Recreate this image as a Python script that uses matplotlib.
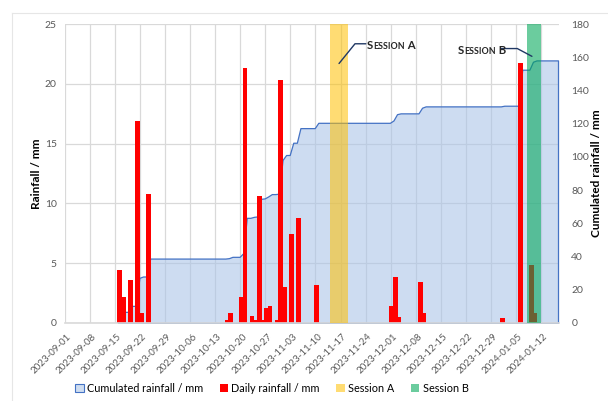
import matplotlib.pyplot as plt
import matplotlib.dates as mdates
from matplotlib.patches import Patch
from matplotlib.lines import Line2D
from matplotlib.colors import to_rgba
from matplotlib.transforms import ScaledTranslation
import pandas as pd

plt.rcParams['font.family'] = ['Lato', 'DejaVu Sans']

# daily rainfall (mm)
rain_dates = ['2023-09-16', '2023-09-17', '2023-09-19', '2023-09-21', '2023-09-22', '2023-09-24',
              '2023-10-16', '2023-10-17', '2023-10-20', '2023-10-21', '2023-10-23', '2023-10-24',
              '2023-10-25', '2023-10-26', '2023-10-27', '2023-10-28', '2023-10-30', '2023-10-31',
              '2023-11-01', '2023-11-03', '2023-11-05', '2023-11-10',
              '2023-12-01', '2023-12-02', '2023-12-03', '2023-12-09', '2023-12-10',
              '2024-01-01', '2024-01-06', '2024-01-09', '2024-01-10']
rain_mm = [4.4, 2.2, 3.6, 16.9, 0.8, 10.8,
           0.25, 0.8, 2.2, 21.3, 0.6, 0.25,
           10.6, 0.25, 1.2, 1.4, 0.25, 20.3,
           3.0, 7.4, 8.8, 3.2,
           1.4, 3.8, 0.5, 3.4, 0.8,
           0.4, 21.7, 4.8, 0.8]

session_a = ('2023-11-14', '2023-11-19')
session_b = ('2024-01-08', '2024-01-12')
cum_start, cum_end = '2023-09-15', '2024-01-16'
tick_start, tick_end = '2023-09-01', '2024-01-12'
rain_ticks = [0, 5, 10, 15, 20, 25]
cum_ticks = list(range(0, 181, 20))

daily = pd.Series(rain_mm, index=pd.to_datetime(rain_dates))
days = pd.date_range(cum_start, cum_end, freq='D')
cumulated = daily.reindex(days, fill_value=0).cumsum()

RED = '#FF0000'
LINE = '#4472C4'
AREA = to_rgba('#A9C4E8', 0.58)
BAND_A = to_rgba('#FFC000', 0.55)
BAND_B = to_rgba('#00A859', 0.58)
GRID = '#D9D9D9'
TXT = '#595959'
BAR_SHIFT = pd.Timedelta(hours=7)
LINE_SHIFT = pd.Timedelta(hours=19)

fig = plt.figure(figsize=(6.08, 4.01), dpi=100)
ax = fig.add_axes([0.107, 0.195, 0.812, 0.745])
ax2 = ax.twinx()
ax.set_zorder(ax2.get_zorder() + 1)
ax.patch.set_visible(False)

ticks = pd.date_range(tick_start, tick_end, freq='7D')

# grid sits under the area, on the lower axes
for t in ticks:
    ax2.axvline(t, color=GRID, lw=0.9, zorder=0)
for v in rain_ticks:
    ax2.plot([0, 1], [v, v], transform=ax.get_yaxis_transform(), color=GRID, lw=0.9, zorder=0)

ax2.fill_between(days + LINE_SHIFT, cumulated.values, facecolor=AREA, edgecolor=LINE,
                 lw=0.9, zorder=1)

ax.bar(daily.index + BAR_SHIFT, daily.values, width=1.3, color=RED, lw=0, zorder=2)
ax.axvspan(pd.Timestamp(session_a[0]), pd.Timestamp(session_a[1]), color=BAND_A, lw=0, zorder=3)
ax.axvspan(pd.Timestamp(session_b[0]), pd.Timestamp(session_b[1]), color=BAND_B, lw=0, zorder=3)

ax.set_xlim(pd.Timestamp(tick_start), pd.Timestamp('2024-01-17'))
ax.set_ylim(0, 25)
ax2.set_ylim(0, 180)
ax.set_yticks(rain_ticks)
ax2.set_yticks(cum_ticks)
ax.set_xticks(ticks)
ax.xaxis.set_major_formatter(mdates.DateFormatter('%Y-%m-%d'))

ax.tick_params(axis='x', length=0, pad=9, labelsize=7, labelcolor=TXT)
ax.tick_params(axis='y', length=0, pad=6, labelsize=7.5, labelcolor=TXT)
ax2.tick_params(axis='y', length=0, pad=9, labelsize=7.5, labelcolor=TXT)

nudge = ScaledTranslation(0.05, 0, fig.dpi_scale_trans)
for lab in ax.get_xticklabels():
    lab.set_rotation(45)
    lab.set_ha('right')
    lab.set_va('center')
    lab.set_rotation_mode('anchor')
    lab.set_transform(lab.get_transform() + nudge)

for a in (ax, ax2):
    for s in a.spines.values():
        s.set_visible(False)
ax.spines['bottom'].set_visible(True)
ax.spines['bottom'].set_color(GRID)
ax.spines['bottom'].set_linewidth(1.2)

ax.set_ylabel('Rainfall / mm', fontsize=8.5, fontweight='bold')
ax.yaxis.set_label_coords(-0.047, 0.5)
ax2.set_ylabel('Cumulated rainfall / mm', fontsize=8.5, fontweight='bold')
ax2.yaxis.set_label_coords(1.066, 0.5)


def small_caps(x, y, word, tail):
    t = ax.text(x, y, word[0], fontsize=8.2, fontweight='bold', color='#262626',
                va='baseline', zorder=5)
    t = ax.annotate(word[1:].upper(), xy=(1, 0), xycoords=t, fontsize=6.4, fontweight='bold',
                    color='#262626', va='bottom', zorder=5)
    ax.annotate(tail, xy=(1, 0), xycoords=t, fontsize=8.2, fontweight='bold',
                color='#262626', va='bottom', zorder=5)


lead = dict(arrowstyle='-', color='#203864', lw=1.0, shrinkA=0, shrinkB=0)
small_caps(pd.Timestamp('2023-11-24 10:00'), 22.95, 'Session', ' A')
ax.annotate('', xy=(pd.Timestamp('2023-11-16 14:00'), 21.7),
            xytext=(pd.Timestamp('2023-11-24 02:00'), 23.35),
            arrowprops=dict(lead, connectionstyle='angle,angleA=0,angleB=51'))

small_caps(pd.Timestamp('2023-12-19 18:00'), 22.5, 'Session', ' B')
ax.annotate('', xy=(pd.Timestamp('2024-01-09 12:00'), 22.3),
            xytext=(pd.Timestamp('2024-01-01 00:00'), 22.95),
            arrowprops=dict(lead, connectionstyle='angle,angleA=0,angleB=-28'))

handles = [Patch(facecolor='#CFDDF0', edgecolor=LINE, lw=0.8, label='Cumulated rainfall / mm'),
           Patch(facecolor=RED, label='Daily rainfall / mm'),
           Patch(facecolor=BAND_A, label='Session A'),
           Patch(facecolor=BAND_B, label='Session B')]
fig.legend(handles=handles, loc='center', bbox_to_anchor=(0.447, 0.032), ncol=4,
           frameon=False, fontsize=7.8, handlelength=0.8, handleheight=0.8,
           handletextpad=0.3, columnspacing=1.5)

# faint chart frame
fig.add_artist(Line2D([12 / 608, 1], [1 - 13 / 401] * 2, color='#E6E6E6', lw=0.8,
                      transform=fig.transFigure))
fig.add_artist(Line2D([12 / 608] * 2, [0, 1 - 13 / 401], color='#E6E6E6', lw=0.8,
                      transform=fig.transFigure))

fig.savefig('out.png', dpi=100)
